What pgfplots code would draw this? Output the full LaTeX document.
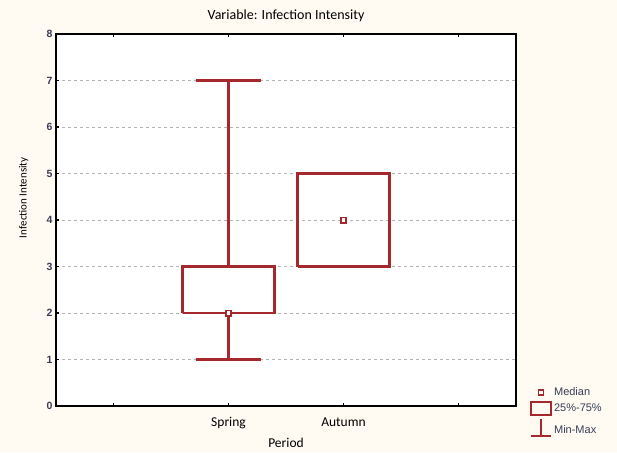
\documentclass[border=0pt]{standalone}
\usepackage{pgfplots}
\pgfplotsset{compat=1.18}
\usepackage{fontspec}
\setmainfont{Carlito}
\newfontfamily\tickfont{Liberation Sans}
\definecolor{boxred}{RGB}{165,40,45}
\definecolor{bgcream}{RGB}{255,251,243}
\definecolor{ticktext}{RGB}{55,60,85}
\begin{document}
\begin{tikzpicture}[x=1pt,y=1pt]
\fill[bgcream] (0,0) rectangle (617,452);
\begin{axis}[
  at={(56pt,46pt)}, anchor=south west,
  scale only axis, width=460pt, height=372pt,
  xmin=-0.5, xmax=3.5, ymin=0, ymax=8,
  xtick={0,1,2,3}, xticklabels={,Spring,Autumn,},
  ytick={0,1,...,8},
  xtick pos=both, ytick pos=left, tick align=inside,
  major tick length=3pt,
  tick style={black, line width=1.2pt},
  axis line style={black, line width=1.8pt},
  axis background/.style={fill=white},
  ymajorgrids,
  grid style={gray!60, line width=0.9pt, dash pattern=on 3pt off 3pt},
  unbounded coords=jump,
  /pgf/number format/assume math mode=true,
  yticklabel style={font=\tickfont\bfseries\fontsize{10.5}{10.5}\selectfont, text=ticktext},
  xticklabel style={font=\fontsize{13.5}{14}\selectfont, yshift=-8pt},
  title={Variable: Infection Intensity},
  title style={font=\fontsize{14}{15}\selectfont, at={(axis description cs:0.5,1.032)}, anchor=center},
  xlabel={Period}, ylabel={Infection Intensity},
  xlabel style={font=\fontsize{13.5}{14}\selectfont, at={(axis description cs:0.5,-0.1)}, anchor=center},
  ylabel style={font=\fontsize{11}{12}\selectfont, at={(axis description cs:-0.07,0.56)}, anchor=center},
  legend style={at={(1.028,0.058)}, anchor=north west, draw=none, fill=none,
    font=\tickfont\fontsize{11}{12}\selectfont, text=ticktext, row sep=2pt, inner sep=1pt},
  legend cell align=left,
]
% Spring: min 1, Q1 2, median 2, Q3 3, max 7
\addplot[draw=boxred, line width=2.4pt, forget plot] coordinates {
  (0.6,2) (1.4,2) (1.4,3) (0.6,3) (0.6,2) (nan,nan)
  (1,3) (1,7) (nan,nan) (0.72,7) (1.28,7) (nan,nan)
  (1,2) (1,1) (nan,nan) (0.72,1) (1.28,1)
};
% Autumn: min 3, Q1 3, median 4, Q3 5, max 5
\addplot[draw=boxred, line width=2.4pt, forget plot] coordinates {
  (1.6,3) (2.4,3) (2.4,5) (1.6,5) (1.6,3)
};
\addplot[only marks, mark=square*, mark size=2.6pt, draw=boxred, fill=white,
  line width=1.8pt, forget plot] coordinates {(1,2) (2,4)};
\addlegendimage{legend image code/.code={\draw[boxred, fill=white, line width=1.6pt] (7.5pt,-2.5pt) rectangle (12.5pt,2.5pt);}}
\addlegendentry{Median}
\addlegendimage{legend image code/.code={\draw[boxred, line width=2pt] (0pt,-7pt) rectangle (20pt,6pt);}}
\addlegendentry{25\%-75\%}
\addlegendimage{legend image code/.code={\draw[boxred, line width=2pt] (10pt,11pt) -- (10pt,-6pt) (0pt,-6pt) -- (20pt,-6pt);}}
\addlegendentry{Min-Max}
\end{axis}
\end{tikzpicture}
\end{document}
